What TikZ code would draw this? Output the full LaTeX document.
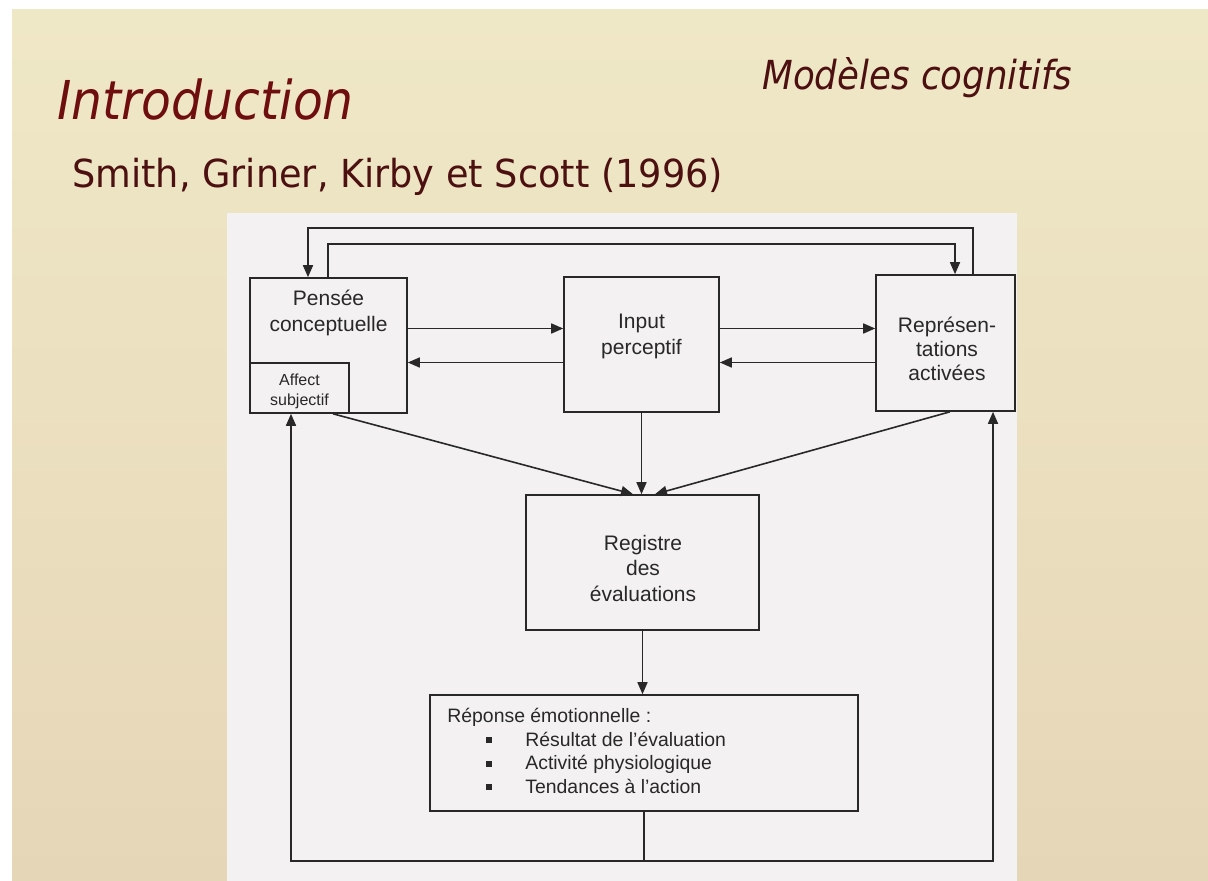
\documentclass[tikz,border=0pt]{standalone}
\usepackage{fontspec}
\setmainfont{Liberation Sans}
\newfontfamily\fIntro[FakeStretch=0.91]{DejaVu Sans}
\newfontfamily\fSmith[FakeStretch=0.95]{DejaVu Sans}
\newfontfamily\fMod[FakeStretch=0.89]{DejaVu Sans}
\usetikzlibrary{arrows.meta}
\definecolor{bgtop}{RGB}{239,232,198}
\definecolor{bgbot}{RGB}{230,214,184}
\definecolor{panel}{RGB}{243,241,241}
\definecolor{ink}{RGB}{40,40,40}
\definecolor{titlered}{RGB}{110,14,14}
\definecolor{titlebrown}{RGB}{76,16,16}
\newcommand\mybul{\makebox[39pt][l]{\hspace{19.5pt}\rule[1.5pt]{3pt}{3pt}}}
\begin{document}
\begin{tikzpicture}[x=0.5pt,y=-0.5pt,
  box/.style={draw=ink,line width=0.8pt,inner sep=0pt,fill=panel},
  lbl/.style={text=ink,align=center,inner sep=0pt},
  arr/.style={draw=ink,line width=0.8pt,-{Triangle[length=6pt,width=5pt]}},
  ln/.style={draw=ink,line width=0.8pt}]
\useasboundingbox (0,0) rectangle (1208,881);
\fill[white] (0,0) rectangle (1208,881);
\shade[top color=bgtop,bottom color=bgbot] (12,10) rectangle (1208,881);
\fill[panel] (227,213) rectangle (1017,881);

% titles
\node[anchor=base west,inner sep=0pt,text=titlered,font=\fIntro\itshape\fontsize{26.8}{30}\selectfont] (intro) at (57,120) {Introduction};
\node[anchor=base west,inner sep=0pt,text=titlebrown,font=\fSmith\fontsize{19.3}{22}\selectfont] (smith) at (72,188) {Smith, Griner, Kirby et Scott (1996)};
\node[anchor=base west,inner sep=0pt,text=titlebrown,font=\fMod\itshape\fontsize{20}{24}\selectfont] (mod) at (762,90) {Modèles cognitifs};

% boxes
\node[box,minimum width=78.5pt,minimum height=67.5pt] (pc) at (328.5,345.5) {};
\node[box,minimum width=49.5pt,minimum height=25pt] (af) at (299.5,388) {};
\node[box,minimum width=77.5pt,minimum height=67.5pt] (ip) at (641.5,344.5) {};
\node[box,minimum width=69.5pt,minimum height=68pt] (ra) at (945.5,343) {};
\node[box,minimum width=116.5pt,minimum height=67.5pt] (re) at (642.5,562.5) {};
\node[box,minimum width=214pt,minimum height=58pt] (rp) at (644,753) {};

% box texts
\node[lbl,font=\fontsize{10.5}{13}\selectfont] (pct) at (328.5,313) {Pensée\\conceptuelle};
\node[lbl,font=\fontsize{8}{10}\selectfont] (aft) at (299.5,391) {Affect\\subjectif};
\node[lbl,font=\fontsize{10.5}{13}\selectfont] (ipt) at (641.5,336) {Input\\perceptif};
\node[lbl,font=\fontsize{10.5}{12}\selectfont] (rat) at (947,349) {Représen-\\tations\\activées};
\node[lbl,font=\fontsize{10.5}{12.75}\selectfont] (ret) at (643,568) {Registre\\des\\évaluations};
\node[anchor=west,text=ink,align=left,inner sep=0pt,font=\fontsize{9.7}{11.7}\selectfont] (rpt) at (447,751)
  {Réponse émotionnelle :\\\mybul Résultat de l'évaluation\\\mybul Activité physiologique\\\mybul Tendances à l'action};

% helper coordinates
\coordinate (h1) at (0,328.5);
\coordinate (h2) at (0,362.5);
\coordinate (xa) at (308,228);
\coordinate (xb) at (973,228);
\coordinate (xc) at (328,244);
\coordinate (xd) at (955,244);
\coordinate (dl1) at (333,0);
\coordinate (dl2) at (633,0);
\coordinate (dr1) at (950,0);
\coordinate (dr2) at (655,0);
\coordinate (bot) at (644,861);
\coordinate (lx) at (291,861);
\coordinate (rx) at (993,861);

% horizontal arrows
\draw[arr] (pc.east |- h1) -- (ip.west |- h1);
\draw[arr] (ip.west |- h2) -- (pc.east |- h2);
\draw[arr] (ip.east |- h1) -- (ra.west |- h1);
\draw[arr] (ra.west |- h2) -- (ip.east |- h2);

% top loops
\draw[arr] (ra.north -| xb) -- (xb) -- (xa) -- (pc.north -| xa);
\draw[arr] (pc.north -| xc) -- (xc) -- (xd) -- (ra.north -| xd);

% to registre
\draw[arr] (pc.south -| dl1) -- (re.north -| dl2);
\draw[arr] (ip.south) -- (ip.south |- re.north);
\draw[arr] (ra.south -| dr1) -- (re.north -| dr2);
\draw[arr] (re.south) -- (re.south |- rp.north);

% feedback bottom
\draw[ln] (rp.south) -- (bot);
\draw[arr] (bot) -- (lx) -- (af.south -| lx);
\draw[arr] (bot) -- (rx) -- (ra.south -| rx);
\end{tikzpicture}
\end{document}
